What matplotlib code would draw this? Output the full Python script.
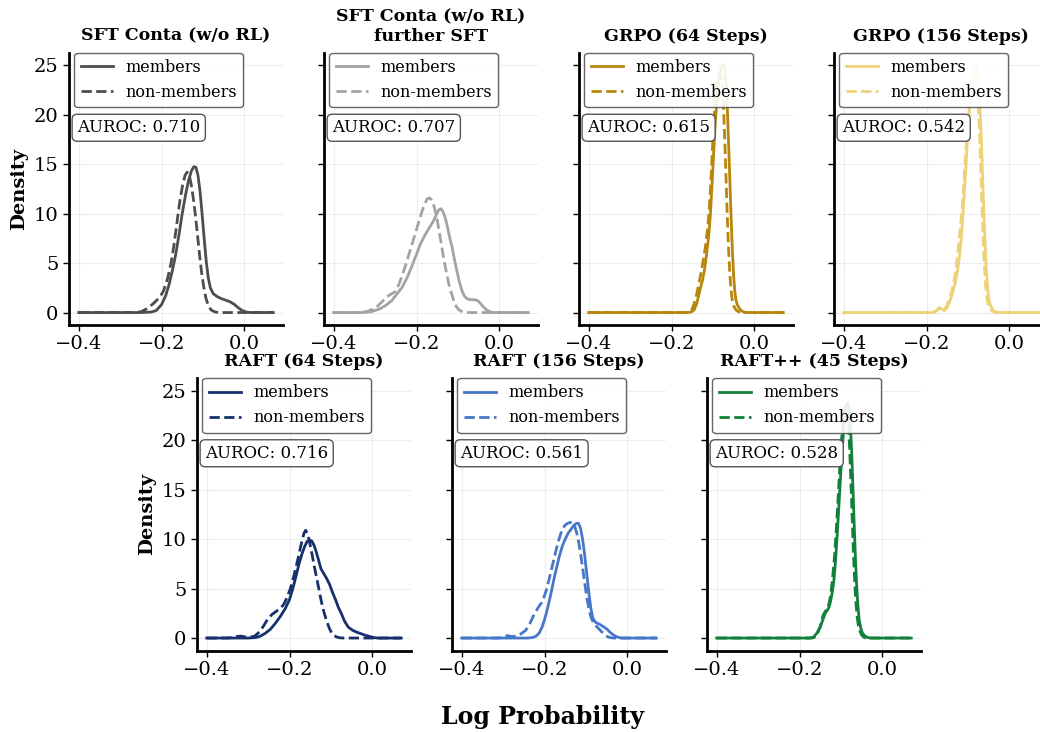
import matplotlib
matplotlib.use("Agg")
import matplotlib.pyplot as plt

plt.rcParams['font.family'] = ['DejaVu Serif']

# ---- panel titles / AUROC / colours
titles = ['SFT Conta (w/o RL)', 'SFT Conta (w/o RL)\nfurther SFT', 'GRPO (64 Steps)',
          'GRPO (156 Steps)', 'RAFT (64 Steps)', 'RAFT (156 Steps)', 'RAFT++ (45 Steps)']
aurocs = [0.710, 0.707, 0.615, 0.542, 0.716, 0.561, 0.528]
colors = ['#4d4d4d', '#a3a3a3', '#b8860b', '#eed27a', '#15306b', '#4677c8', '#12803a']

# ---- density curves (x = log prob, y = density)
sft_mem_x = [-0.40, -0.25, -0.225, -0.213, -0.200, -0.190, -0.182, -0.174, -0.166, -0.158, -0.150,
             -0.142, -0.135, -0.128, -0.122, -0.117, -0.112, -0.107, -0.102, -0.097, -0.092,
             -0.087, -0.082, -0.075, -0.065, -0.055, -0.045, -0.035, -0.025, -0.015, -0.005,
             0.005, 0.015, 0.07]
sft_mem_y = [0, 0, 0.05, 0.2, 0.8, 1.7, 2.8, 4.2, 5.8, 7.8, 10.0,
             11.9, 13.3, 14.3, 14.75, 14.7, 13.9, 12.3, 10.0, 7.5, 5.2,
             3.5, 2.5, 1.9, 1.6, 1.4, 1.25, 1.1, 0.85, 0.5, 0.2,
             0.05, 0, 0]
sft_non_x = [-0.40, -0.26, -0.249, -0.235, -0.220, -0.205, -0.195, -0.185, -0.177, -0.170, -0.163,
             -0.156, -0.149, -0.143, -0.138, -0.133, -0.128, -0.123, -0.118, -0.113, -0.108,
             -0.103, -0.098, -0.093, -0.087, -0.080, -0.070, -0.060, 0.07]
sft_non_y = [0, 0, 0.1, 0.4, 0.9, 1.5, 2.2, 3.5, 5.0, 6.8, 9.0,
             11.2, 12.9, 13.9, 14.2, 13.9, 12.9, 11.5, 9.8, 7.8, 5.8,
             4.0, 2.6, 1.5, 0.7, 0.25, 0.05, 0, 0]

sft2_mem_x = [-0.40, -0.33, -0.31, -0.29, -0.275, -0.26, -0.245, -0.234, -0.222, -0.212, -0.200,
              -0.190, -0.180, -0.170, -0.160, -0.152, -0.146, -0.141, -0.136, -0.130, -0.125,
              -0.120, -0.114, -0.109, -0.103, -0.097, -0.091, -0.085, -0.078, -0.070, -0.062,
              -0.054, -0.047, -0.040, -0.033, -0.025, -0.018, -0.010, 0.07]
sft2_mem_y = [0, 0, 0.08, 0.35, 0.7, 1.2, 2.0, 2.6, 3.6, 4.6, 5.9,
              7.0, 7.8, 8.5, 9.2, 9.9, 10.4, 10.5, 10.2, 9.5, 8.6,
              7.6, 6.6, 5.5, 4.3, 3.2, 2.3, 1.7, 1.4, 1.3, 1.3,
              1.25, 1.0, 0.65, 0.35, 0.12, 0.03, 0, 0]
sft2_non_x = [-0.40, -0.34, -0.32, -0.305, -0.294, -0.283, -0.272, -0.262, -0.252, -0.243, -0.235,
              -0.227, -0.219, -0.211, -0.203, -0.195, -0.187, -0.180, -0.174, -0.169, -0.164,
              -0.158, -0.152, -0.146, -0.140, -0.134, -0.128, -0.122, -0.116, -0.110, -0.104,
              -0.097, -0.088, -0.080, 0.07]
sft2_non_y = [0, 0, 0.1, 0.35, 0.65, 1.1, 1.6, 1.85, 2.1, 2.8, 3.7,
              4.7, 5.8, 6.9, 8.0, 9.1, 10.2, 11.0, 11.5, 11.6, 11.4,
              10.8, 9.8, 8.4, 6.9, 5.4, 4.1, 2.9, 2.0, 1.2, 0.6,
              0.25, 0.07, 0, 0]

grpo64_mem_x = [-0.40, -0.16, -0.152, -0.145, -0.140, -0.135, -0.130, -0.125, -0.120, -0.115, -0.110,
                -0.106, -0.102, -0.098, -0.094, -0.090, -0.086, -0.082, -0.078, -0.0745, -0.071,
                -0.068, -0.065, -0.062, -0.059, -0.056, -0.053, -0.050, -0.047, -0.044, -0.040,
                -0.035, -0.030, -0.024, -0.018, 0.07]
grpo64_mem_y = [0, 0, 0.05, 0.3, 0.8, 1.6, 2.5, 3.3, 4.4, 6.0, 7.8,
                10.0, 13.0, 16.3, 19.3, 21.8, 23.4, 24.4, 25.0, 25.1, 24.6,
                23.0, 20.5, 17.0, 13.3, 9.6, 6.3, 3.8, 2.1, 1.2, 0.7,
                0.35, 0.15, 0.04, 0, 0]
grpo64_non_x = [-0.40, -0.16, -0.152, -0.146, -0.140, -0.134, -0.128, -0.122, -0.117, -0.112, -0.108,
                -0.104, -0.100, -0.096, -0.092, -0.088, -0.084, -0.080, -0.077, -0.074, -0.071,
                -0.068, -0.065, -0.062, -0.059, -0.056, -0.053, -0.049, -0.044, -0.038, -0.032, 0.07]
grpo64_non_y = [0, 0, 0.2, 0.8, 1.7, 2.9, 4.2, 5.6, 7.0, 8.8, 11.0,
                14.0, 17.6, 20.6, 22.7, 23.7, 24.1, 23.9, 22.8, 20.4, 17.0,
                13.2, 9.4, 6.2, 3.8, 2.2, 1.2, 0.6, 0.25, 0.08, 0, 0]

grpo156_mem_x = [-0.40, -0.185, -0.176, -0.169, -0.163, -0.157, -0.150, -0.143, -0.137, -0.131, -0.126,
                 -0.121, -0.116, -0.112, -0.108, -0.104, -0.100, -0.096, -0.092, -0.088, -0.084,
                 -0.080, -0.076, -0.073, -0.070, -0.067, -0.064, -0.061, -0.058, -0.055, -0.052,
                 -0.049, -0.045, -0.040, -0.034, -0.027, -0.020, 0.07]
grpo156_mem_y = [0, 0, 0.15, 0.45, 0.35, 0.2, 0.5, 1.2, 2.0, 2.9, 4.0,
                 5.4, 7.5, 9.8, 12.5, 15.3, 18.2, 20.7, 22.6, 23.8, 24.6,
                 24.9, 24.2, 22.5, 20.0, 16.8, 13.2, 9.6, 6.5, 4.0, 2.3,
                 1.3, 0.7, 0.3, 0.1, 0.02, 0, 0]
grpo156_non_x = [-0.40, -0.185, -0.178, -0.172, -0.166, -0.161, -0.156, -0.150, -0.144, -0.138, -0.133,
                 -0.128, -0.123, -0.118, -0.113, -0.109, -0.105, -0.101, -0.097, -0.093, -0.089,
                 -0.085, -0.082, -0.078, -0.075, -0.072, -0.069, -0.066, -0.063, -0.060, -0.057,
                 -0.054, -0.050, -0.045, -0.039, -0.033, 0.07]
grpo156_non_y = [0, 0, 0.15, 0.35, 0.6, 0.5, 0.35, 0.8, 1.5, 2.3, 3.3,
                 4.7, 6.6, 8.8, 11.0, 13.6, 16.5, 18.6, 20.6, 22.2, 23.3,
                 23.8, 23.9, 23.0, 21.0, 18.0, 14.4, 10.6, 7.2, 4.5, 2.6,
                 1.4, 0.7, 0.3, 0.1, 0, 0]

raft64_mem_x = [-0.40, -0.30, -0.281, -0.270, -0.258, -0.246, -0.234, -0.222, -0.210, -0.200, -0.192,
                -0.184, -0.177, -0.170, -0.163, -0.157, -0.151, -0.146, -0.141, -0.136, -0.130,
                -0.124, -0.117, -0.110, -0.103, -0.096, -0.089, -0.082, -0.075, -0.067, -0.058,
                -0.048, -0.038, -0.028, -0.018, -0.008, 0.003, 0.013, 0.07]
raft64_mem_y = [0, 0, 0.05, 0.2, 0.5, 0.9, 1.5, 2.2, 3.0, 3.9, 5.0,
                6.3, 7.5, 8.5, 9.3, 9.8, 9.9, 9.8, 9.4, 8.8, 7.9,
                7.0, 6.5, 6.0, 5.4, 4.6, 3.9, 3.1, 2.5, 1.7, 1.1,
                0.8, 0.6, 0.45, 0.3, 0.18, 0.05, 0, 0]
raft64_non_x = [-0.40, -0.35, -0.338, -0.328, -0.318, -0.308, -0.296, -0.284, -0.273, -0.263, -0.253,
                -0.242, -0.232, -0.222, -0.214, -0.206, -0.198, -0.190, -0.183, -0.176, -0.170,
                -0.165, -0.161, -0.157, -0.153, -0.148, -0.143, -0.138, -0.133, -0.128, -0.122,
                -0.116, -0.110, -0.104, -0.098, -0.092, -0.086, -0.078, -0.070, 0.07]
raft64_non_y = [0, 0, 0.05, 0.15, 0.2, 0.12, 0.08, 0.2, 0.6, 1.2, 1.9,
                2.4, 2.7, 3.0, 3.4, 4.1, 5.0, 6.2, 7.4, 8.7, 9.8,
                10.6, 10.9, 10.6, 10.0, 9.0, 7.9, 6.8, 5.8, 4.7, 3.5,
                2.5, 1.7, 1.0, 0.5, 0.25, 0.1, 0.02, 0, 0]

raft156_mem_x = [-0.40, -0.24, -0.229, -0.220, -0.213, -0.206, -0.199, -0.192, -0.185, -0.178, -0.171,
                 -0.164, -0.157, -0.150, -0.143, -0.136, -0.129, -0.123, -0.118, -0.113, -0.108,
                 -0.103, -0.098, -0.093, -0.088, -0.083, -0.077, -0.070, -0.063, -0.056, -0.049,
                 -0.042, -0.035, -0.027, -0.020, -0.012, 0.07]
raft156_mem_y = [0, 0, 0.05, 0.2, 0.5, 1.1, 2.0, 3.1, 4.4, 5.8, 7.1,
                 8.3, 9.3, 10.0, 10.6, 11.0, 11.4, 11.6, 11.6, 11.1, 10.0,
                 8.4, 6.5, 4.6, 3.0, 2.0, 1.6, 1.45, 1.3, 1.1, 0.9,
                 0.6, 0.35, 0.15, 0.05, 0, 0]
raft156_non_x = [-0.40, -0.31, -0.300, -0.290, -0.280, -0.268, -0.256, -0.245, -0.235, -0.225, -0.215,
                 -0.205, -0.196, -0.188, -0.180, -0.172, -0.165, -0.158, -0.151, -0.144, -0.137,
                 -0.132, -0.127, -0.122, -0.117, -0.112, -0.107, -0.102, -0.097, -0.092, -0.087,
                 -0.081, -0.075, -0.068, -0.061, -0.054, -0.047, -0.040, -0.034, 0.07]
raft156_non_y = [0, 0, 0.08, 0.25, 0.15, 0.2, 0.45, 0.8, 1.5, 2.4, 3.1,
                 3.7, 4.8, 6.1, 7.5, 8.9, 10.0, 10.9, 11.4, 11.6, 11.7,
                 11.7, 11.3, 10.6, 9.6, 8.3, 6.8, 5.3, 3.9, 2.8, 2.0,
                 1.5, 1.2, 0.9, 0.6, 0.3, 0.12, 0.03, 0, 0]

raftpp_mem_x = [-0.40, -0.175, -0.166, -0.158, -0.150, -0.144, -0.138, -0.133, -0.129, -0.125, -0.121,
                -0.117, -0.113, -0.109, -0.105, -0.101, -0.097, -0.093, -0.089, -0.086, -0.083,
                -0.080, -0.077, -0.074, -0.071, -0.068, -0.065, -0.062, -0.059, -0.056, -0.052,
                -0.048, -0.042, -0.035, -0.028, 0.07]
raftpp_mem_y = [0, 0, 0.1, 0.5, 1.1, 1.8, 2.5, 2.8, 3.1, 3.7, 4.6,
                5.8, 7.8, 10.4, 13.3, 16.2, 19.0, 21.3, 22.9, 23.6, 23.8,
                23.2, 21.5, 18.8, 15.3, 11.6, 8.2, 5.4, 3.3, 1.9, 1.0,
                0.5, 0.2, 0.05, 0, 0]
raftpp_non_x = [-0.40, -0.17, -0.163, -0.157, -0.150, -0.143, -0.138, -0.133, -0.128, -0.124, -0.120,
                -0.116, -0.112, -0.108, -0.104, -0.100, -0.096, -0.092, -0.088, -0.085, -0.082,
                -0.079, -0.076, -0.073, -0.070, -0.067, -0.064, -0.061, -0.058, -0.054, -0.050,
                -0.045, -0.040, 0.07]
raftpp_non_y = [0, 0, 0.1, 0.4, 1.2, 2.3, 2.7, 2.9, 3.6, 4.6, 6.1,
                8.0, 10.4, 13.2, 16.3, 19.2, 21.5, 22.9, 23.5, 23.2, 21.8,
                19.3, 16.0, 12.4, 8.9, 6.0, 3.7, 2.2, 1.3, 0.7, 0.3,
                0.1, 0, 0]

members = [(sft_mem_x, sft_mem_y), (sft2_mem_x, sft2_mem_y), (grpo64_mem_x, grpo64_mem_y),
           (grpo156_mem_x, grpo156_mem_y), (raft64_mem_x, raft64_mem_y),
           (raft156_mem_x, raft156_mem_y), (raftpp_mem_x, raftpp_mem_y)]
non_members = [(sft_non_x, sft_non_y), (sft2_non_x, sft2_non_y), (grpo64_non_x, grpo64_non_y),
               (grpo156_non_x, grpo156_non_y), (raft64_non_x, raft64_non_y),
               (raft156_non_x, raft156_non_y), (raftpp_non_x, raftpp_non_y)]

# ---- layout (pixel boxes of the reference)
W, H = 1040, 732
fig = plt.figure(figsize=(W / 100, H / 100), dpi=100)
lefts = [69, 324, 579, 834, 197, 452, 707]
tops = [52.5] * 4 + [378] * 3
aw, ah = 214, 272.5

axes = []
for i in range(7):
    rect = [lefts[i] / W, 1 - (tops[i] + ah) / H, aw / W, ah / H]
    ax = fig.add_axes(rect, sharey=axes[0] if axes else None)
    axes.append(ax)

for i, ax in enumerate(axes):
    mx, my = members[i]
    nx, ny = non_members[i]
    ax.plot(mx, my, color=colors[i], lw=2, label='members')
    ax.plot(nx, ny, color=colors[i], lw=2, ls='--', label='non-members')
    ax.set_title(titles[i], fontsize=12.5, fontweight='bold', pad=8.5)
    ax.set_xticks([-0.4, -0.2, 0.0])
    ax.set_yticks([0, 5, 10, 15, 20, 25])
    ax.grid(True, color='#dddddd', alpha=0.5, lw=0.8)
    ax.set_axisbelow(True)
    for s in ['top', 'right']:
        ax.spines[s].set_visible(False)
    for s in ['left', 'bottom']:
        ax.spines[s].set_linewidth(2)
        ax.spines[s].set_color('black')
    ax.tick_params(labelsize=14, width=1, length=4)
    if i not in (0, 4):
        ax.tick_params(labelleft=False)
    else:
        ax.set_ylabel('Density', fontsize=14, fontweight='bold')
    leg = ax.legend(loc='upper left', bbox_to_anchor=(0.025, 1.0), borderaxespad=0,
                    fontsize=11.5, framealpha=0.9, edgecolor='#555555', fancybox=True)
    leg.get_frame().set_linewidth(1)
    ax.text(0.038, 0.755, f'AUROC: {aurocs[i]:.3f}', transform=ax.transAxes, fontsize=12,
            va='top', ha='left',
            bbox=dict(boxstyle='round,pad=0.3', fc='white', ec='#555555', lw=1))

for ax in axes:
    ax.set_xlim(-0.4235, 0.0935)
axes[0].set_ylim(-1.26, 26.3)

fig.text(0.522, 0.021, 'Log Probability', ha='center', va='center',
         fontsize=17, fontweight='bold')

fig.savefig('out.png', dpi=100)
